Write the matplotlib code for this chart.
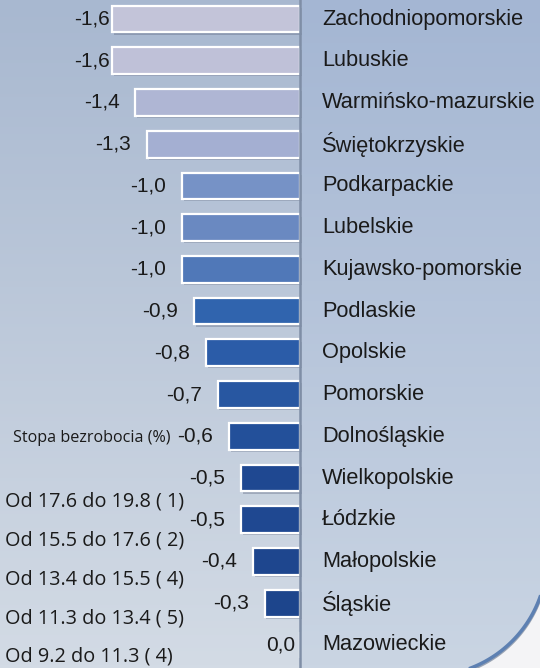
import numpy as np
import matplotlib
matplotlib.use("Agg")
import matplotlib.pyplot as plt
from matplotlib.patches import Polygon
import matplotlib.patheffects as pe
from matplotlib.colors import to_rgb

# ---------------- data ----------------
regions = ["Zachodniopomorskie", "Lubuskie", "Warmińsko-mazurskie", "Świętokrzyskie",
           "Podkarpackie", "Lubelskie", "Kujawsko-pomorskie", "Podlaskie", "Opolskie",
           "Pomorskie", "Dolnośląskie", "Wielkopolskie", "Łódzkie", "Małopolskie",
           "Śląskie", "Mazowieckie"]
changes = [-1.6, -1.6, -1.4, -1.3, -1.0, -1.0, -1.0, -0.9, -0.8, -0.7, -0.6,
           -0.5, -0.5, -0.4, -0.3, 0.0]
legend_title = "Stopa bezrobocia (%)"
legend_ranges = ["Od 17.6 do 19.8 ( 1)", "Od 15.5 do 17.6 ( 2)",
                 "Od 13.4 do 15.5 ( 4)", "Od 11.3 do 13.4 ( 5)",
                 "Od 9.2 do 11.3 ( 4)"]

bar_colors = ["#c3c4d9", "#bfc1d8", "#afb6d4", "#a4afd2", "#7692c6", "#6a89c1",
              "#5078b8", "#3064ae", "#2b5ca8", "#2857a1", "#23509a", "#1f4891",
              "#1f4891", "#1e468e", "#1d458c", "#1d458c"]

W, H = 540, 668
DPI = 100
fig = plt.figure(figsize=(W / DPI, H / DPI), dpi=DPI)

# ---------------- background (pixel coordinates) ----------------
bg = fig.add_axes([0, 0, 1, 1])
bg.set_xlim(0, W)
bg.set_ylim(H, 0)
bg.axis("off")

def grad(top, bottom, n=200):
    t = np.linspace(0, 1, n)[:, None]
    a, b = np.array(to_rgb(top)), np.array(to_rgb(bottom))
    return (a * (1 - t) + b * t)[:, None, :]

bg.imshow(grad("#a8b8d0", "#d3dbe5"), extent=(0, 300, H, 0), aspect="auto", zorder=0)
bg.imshow(grad("#a4b6d3", "#cad5e3"), extent=(300, W, H, 0), aspect="auto", zorder=0)

# rounded corner at bottom right
cx, cy, r = 428, 557, 119
th = np.radians(np.linspace(19.6, 69.0, 60))
arc_pts = np.column_stack([cx + r * np.cos(th), cy + r * np.sin(th)])
corner = np.vstack([[W + 5, arc_pts[0, 1]], arc_pts, [arc_pts[-1, 0], H + 5], [W + 5, H + 5]])
bg.add_patch(Polygon(corner, closed=True, facecolor="#f4f4f6", edgecolor="none", zorder=1))
bg.plot(arc_pts[:, 0], arc_pts[:, 1] + 1.5, color="#9aa4b4", lw=2.5, zorder=2)
bg.plot(arc_pts[:, 0], arc_pts[:, 1], color="#5d80b2", lw=2.5, zorder=3)

# legend texts (from the map legend, partly covered)
bg.text(13, 438, legend_title, family="Open Sans", fontsize=11.6, color="#1a1a1a",
        ha="left", va="center", zorder=5)
for i, t in enumerate(legend_ranges):
    bg.text(5, 502 + i * 38.7, t, family="Open Sans", fontsize=14.3, color="#1a1a1a",
            ha="left", va="center", zorder=5)

# ---------------- bar axes ----------------
scale = 117.5   # px per unit
x0 = 300        # px of zero
row_h = 41.73
y_first = 19
ax = fig.add_axes([0, 0, 1, 1])
ax.patch.set_alpha(0)
ax.set_xlim(-x0 / scale, (W - x0) / scale)
n = len(regions)
ax.set_ylim((n - 1) + (H - (y_first + (n - 1) * row_h)) / row_h, -y_first / row_h)
ax.axis("off")

ypos = np.arange(n)
bars = ax.barh(ypos, changes, height=0.64, color=bar_colors, edgecolor="white",
               linewidth=1.6, zorder=3)
for b in bars:
    b.set_path_effects([pe.SimplePatchShadow(offset=(1.2, -1.6), shadow_rgbFace="#55607a", alpha=0.35),
                        pe.Normal()])

# zero axis line
ax.axvline(0, color="#7f8ea6", lw=1.8, zorder=4)

for y, v, name in zip(ypos, changes, regions):
    if v <= -1.5:
        gap = 2
    elif v == 0:
        gap = 5
    else:
        gap = 16
    ax.annotate(f"{v:.1f}".replace(".", ","), xy=(v, y), xytext=(-gap * 72 / DPI, 0),
                textcoords="offset points", ha="right", va="center",
                family="Liberation Sans", fontsize=15.0, color="#1a1a1a", zorder=5)
    ax.annotate(name, xy=(0, y), xytext=(22 * 72 / DPI, 0), textcoords="offset points",
                ha="left", va="center", family="Liberation Sans", fontsize=15.7,
                color="#1a1a1a", zorder=5)

fig.savefig("out.png", dpi=DPI)
